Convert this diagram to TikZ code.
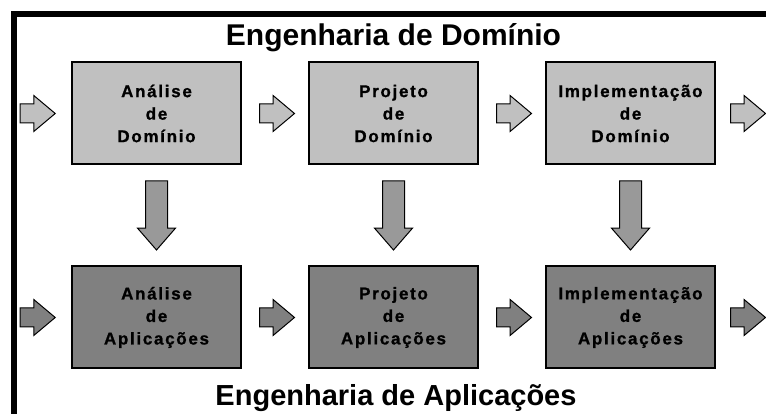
\documentclass[tikz,border=0pt]{standalone}
\usepackage{fontspec}
\setmainfont{Liberation Sans}
\newfontfamily\boxfont[LetterSpace=10,FakeBold=1]{Liberation Sans}
\usepackage{tikz}
\usetikzlibrary{calc,shapes,arrows,positioning}
\definecolor{dominio}{HTML}{C0C0C0}
\definecolor{aplica}{HTML}{808080}
\definecolor{desce}{HTML}{999999}
\tikzset{
  etapa/.style={draw,line width=2pt,minimum width=169pt,minimum height=102pt,inner sep=0pt,
    align=center,font=\boxfont\bfseries\fontsize{17}{22.5}\selectfont},
  harrow/.style={single arrow,draw,line width=1pt,inner xsep=0pt,inner ysep=9pt,minimum height=35pt,
    single arrow head extend=8.5pt,single arrow tip angle=80},
  varrow/.style={harrow,fill=desce,shape border rotate=270,inner sep=10.5pt,minimum height=69pt,
    single arrow head extend=8pt,single arrow tip angle=82},
  titulo/.style={anchor=base,font=\bfseries\fontsize{30}{36}\selectfont}
}

\begin{document}
\begin{tikzpicture}[x=1pt,y=1pt]
        \useasboundingbox (0,0) rectangle (766,414);
        \draw[line width=6pt] (766,400) -| (14,0);
        \node[titulo] (td) at (393.5,368) {Engenharia de Domínio};
        \node[titulo,font=\bfseries\fontsize{29}{35}\selectfont] (ta) at (396,8) {Engenharia de Aplicações};
        % dominio
        \node[etapa,fill=dominio] (ad) at (156.5,300.5) {Análise\\de\\Domínio};
        \node[etapa,fill=dominio,right=66pt of ad] (pd) {Projeto\\de\\Domínio};
        \node[etapa,fill=dominio,right=66pt of pd] (id) {Implementação\\de\\Domínio};
        % aplicacoes
        \node[etapa,fill=aplica,below=100pt of ad] (aa) {Análise\\de\\Aplicações};
        \node[etapa,fill=aplica,below=100pt of pd] (pa) {Projeto\\de\\Aplicações};
        \node[etapa,fill=aplica,below=100pt of id] (ia) {Implementação\\de\\Aplicações};
        \node[harrow,fill=dominio,left=15pt of ad] (ed) {};
        \node[harrow,fill=dominio,right=14pt of id] (sd) {};
        \node[harrow,fill=aplica,left=15pt of aa] (ea) {};
        \node[harrow,fill=aplica,right=14pt of ia] (sa) {};
        \foreach \a/\b in {ad/pd,pd/id}
        \node[harrow,fill=dominio,right=17pt of \a] (\a-\b) {};
        \foreach \a/\b in {aa/pa,pa/ia}
        \node[harrow,fill=aplica,right=17pt of \a] (\a-\b) {};
        \foreach \u/\l in {ad/aa,pd/pa,id/ia}
        \node[varrow,below=15pt of \u] (\u-\l) {};
    \end{tikzpicture}
\end{document}
